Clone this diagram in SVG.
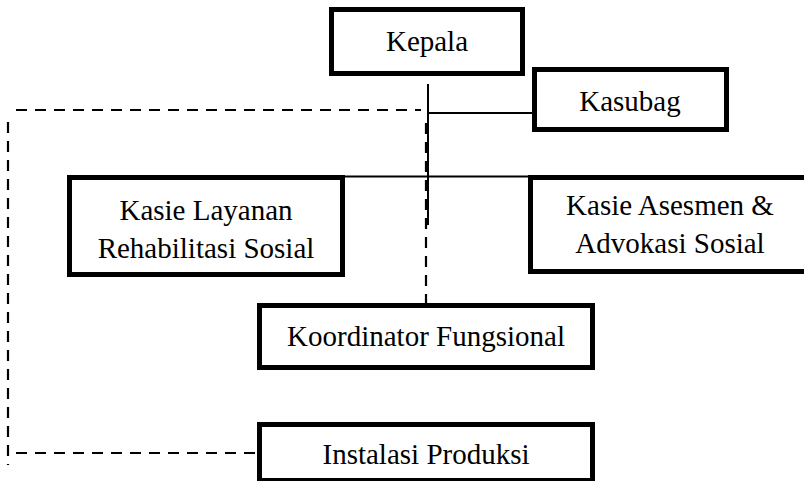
<svg xmlns="http://www.w3.org/2000/svg" width="804" height="481" viewBox="0 0 804 481">
<style>
.box{fill:#fff;stroke:#000;stroke-width:5}
.t{font-family:"Liberation Serif","Times New Roman",serif;font-size:29px;fill:#000;text-anchor:middle}
.s{fill:none;stroke:#000;stroke-width:2}
.d{fill:none;stroke:#000;stroke-width:2.2;stroke-dasharray:11 8}
</style>
<rect width="804" height="481" fill="#fff"/>
<g id="connectors">
<line class="s" x1="428" y1="84" x2="428" y2="225"/>
<line class="s" x1="428" y1="113" x2="533" y2="113"/>
<line class="s" x1="222" y1="176.5" x2="530" y2="176.5"/>
<line class="d" x1="426" y1="123" x2="426" y2="304"/>
<line class="d" x1="16" y1="110" x2="421" y2="110"/>
<line class="d" x1="8" y1="122" x2="8" y2="465"/>
<line class="d" x1="16" y1="453" x2="258" y2="453"/>
</g>
<g id="kepala">
<rect class="box" x="331.5" y="9.5" width="191" height="64"/>
<text class="t" x="427" y="51">Kepala</text>
</g>
<g id="kasubag">
<rect class="box" x="534.5" y="69.5" width="192" height="60"/>
<text class="t" x="630" y="111">Kasubag</text>
</g>
<g id="layanan">
<rect class="box" x="69.5" y="177.5" width="273" height="97"/>
<text class="t" x="206" y="220">Kasie Layanan</text>
<text class="t" x="206" y="258">Rehabilitasi Sosial</text>
</g>
<g id="asesmen">
<rect class="box" x="530.5" y="177.5" width="280" height="94"/>
<text class="t" x="670" y="215">Kasie Asesmen &amp;</text>
<text class="t" x="670" y="253">Advokasi Sosial</text>
</g>
<g id="koordinator">
<rect class="box" x="259.5" y="305.5" width="333" height="62"/>
<text class="t" x="426" y="346">Koordinator Fungsional</text>
</g>
<g id="instalasi">
<rect class="box" x="259.5" y="424.5" width="333" height="56"/>
<text class="t" x="426" y="464">Instalasi Produksi</text>
</g>
</svg>
